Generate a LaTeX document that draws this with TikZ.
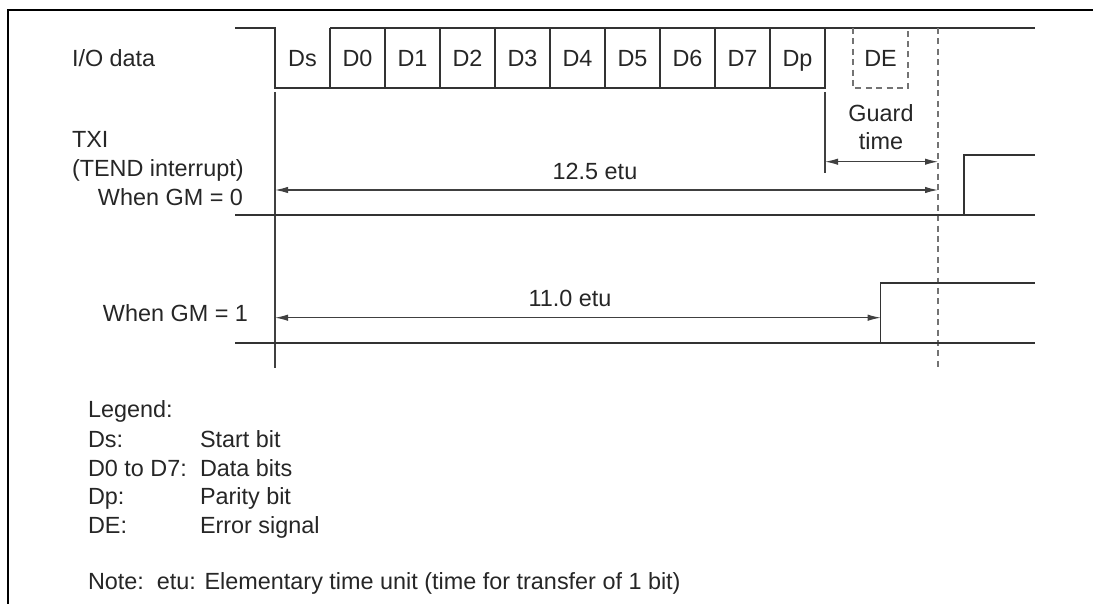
\documentclass[tikz,border=0pt]{standalone}
\usepackage{fontspec}
\setmainfont{Liberation Sans}
\usetikzlibrary{arrows.meta}
\begin{document}
\begin{tikzpicture}[x=0.5pt,y=-0.5pt,
  every node/.style={inner sep=0pt,outer sep=0pt,font=\fontsize{11.7}{13}\selectfont,text=black!85},
  wave/.style={draw=black!80,line width=0.6pt},
  frame/.style={draw=black,line width=1.4pt},
  refline/.style={draw=black!75,line width=0.55pt},
  guide/.style={draw=black!55,line width=0.55pt,dash pattern=on 3pt off 2.2pt},
  dim/.style={draw=black!75,line width=0.55pt,{Latex[length=6.5pt,width=3.2pt]}-{Latex[length=6.5pt,width=3.2pt]}},
  lbl/.style={anchor=base},
  lw/.style={anchor=base west},
  le/.style={anchor=base east}]
\useasboundingbox (0,0) rectangle (1093,604);
% frame
\draw[frame] (8,604) -- (8,10) -- (1093,10);
% I/O data waveform
\coordinate (ioA) at (235,28);
\coordinate (ioB) at (275,28);
\coordinate (ioC) at (275,88);
\coordinate (ioD) at (825,88);
\coordinate (ioE) at (330,28);
\coordinate (ioF) at (1035,28);
\draw[wave] (ioA) -- (ioB) -- (ioC) -- (ioD) -- (825,28);
\draw[wave] (ioE) -- (ioF);
\foreach \x in {330,385,440,495,550,605,660,715,770}{\draw[wave] (\x,28) -- (\x,88);}
\foreach \n/\t/\x in {ds/Ds/302.5,d0/D0/357.5,d1/D1/412.5,d2/D2/467.5,d3/D3/522.5,d4/D4/577.5,d5/D5/632.5,d6/D6/687.5,d7/D7/742.5,dp/Dp/797.5}
  {\node[lbl] (\n) at (\x,66.7) {\t};}
% DE dashed cell
\draw[guide] (853,28) -- (853,88) -- (908,88) -- (908,28);
\node[lbl] (de) at (880.5,66.7) {DE};
% reference verticals
\coordinate (r0t) at (275,92);
\coordinate (r0b) at (275,368);
\coordinate (r1t) at (825,92);
\coordinate (r1b) at (825,173);
\coordinate (gt) at (938,28);
\coordinate (gb) at (938,368);
\draw[refline] (r0t) -- (r0b);
\draw[refline] (r1t) -- (r1b);
\draw[guide] (gt) -- (gb);
% guard time
\coordinate (gA) at (825,161.7);
\coordinate (gB) at (938,161.7);
\draw[dim] (gA) -- (gB);
\node[lbl] (guard) at (881,121.7) {Guard};
\node[lbl] (gtime) at (881,150) {time};
% 12.5 etu
\coordinate (aA) at (275,190);
\coordinate (aB) at (938,190);
\draw[dim] (aA) -- (aB);
\node[lbl] (e125) at (595,180) {12.5 etu};
% GM = 0 waveform
\coordinate (w0a) at (235,215);
\coordinate (w0b) at (964,215);
\coordinate (w0c) at (964,155);
\coordinate (w0d) at (1035,155);
\coordinate (w0e) at (1035,215);
\draw[wave] (w0a) -- (w0b) -- (w0c) -- (w0d);
\draw[wave] (w0b) -- (w0e);
% GM = 1 waveform
\coordinate (w1a) at (235,343);
\coordinate (w1b) at (880.7,343);
\coordinate (w1c) at (880.7,283);
\coordinate (w1d) at (1035,283);
\coordinate (w1e) at (1035,343);
\draw[wave] (w1a) -- (w1b) -- (w1c) -- (w1d);
\draw[wave] (w1b) -- (w1e);
% 11.0 etu
\coordinate (bA) at (275,317.7);
\coordinate (bB) at (880.7,317.7);
\draw[dim] (bA) -- (bB);
\node[lbl] (e110) at (570,306.7) {11.0 etu};
% left labels
\node[lw] (io) at (72,66.7) {I/O data};
\node[lw] (txi) at (72,147.7) {TXI};
\node[lw] (tend) at (72,177) {(TEND interrupt)};
\node[le] (gm0) at (243,206) {When GM = 0};
\node[le] (gm1) at (248,321.7) {When GM = 1};
% legend
\node[lw] (leg) at (88,417) {Legend:};
\node[lw] (l1a) at (88,447) {Ds:};
\node[lw] (l1b) at (200,447) {Start bit};
\node[lw] (l2a) at (88,476) {D0 to D7:};
\node[lw] (l2b) at (200,476) {Data bits};
\node[lw] (l3a) at (88,504) {Dp:};
\node[lw] (l3b) at (200,504) {Parity bit};
\node[lw] (l4a) at (88,533) {DE:};
\node[lw] (l4b) at (200,533) {Error signal};
\node[lw] (note) at (88,589) {Note:\ \ etu: Elementary time unit (time for transfer of 1 bit)};
\end{tikzpicture}
\end{document}
